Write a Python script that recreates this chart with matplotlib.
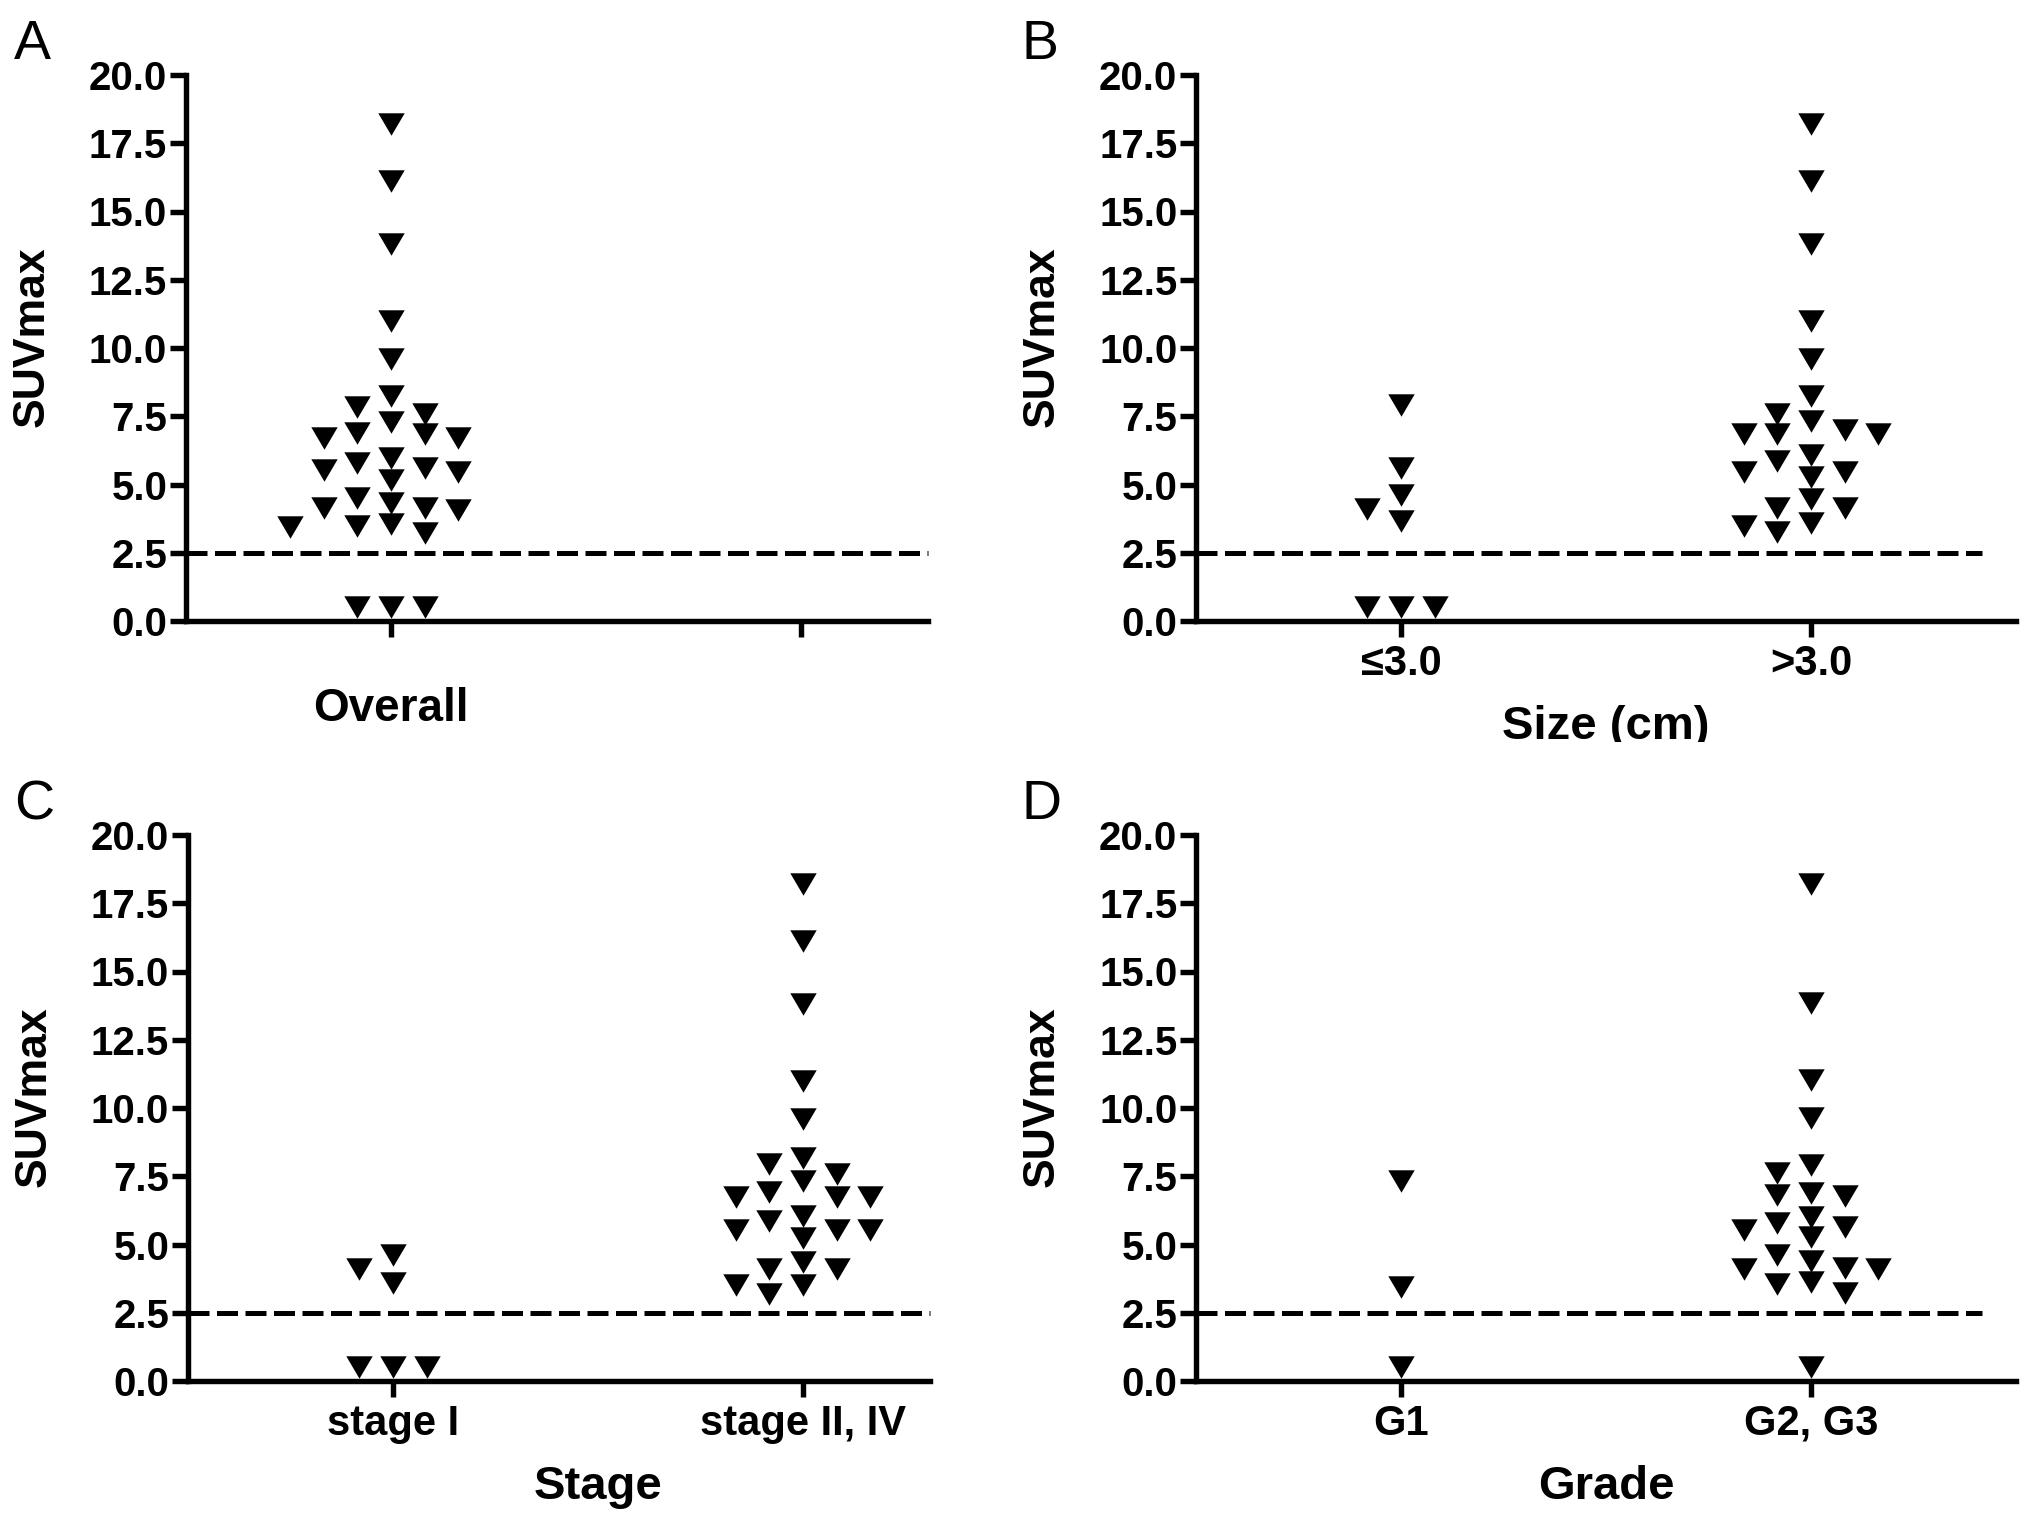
import numpy as np
import matplotlib
matplotlib.use("Agg")
import matplotlib.pyplot as plt
from matplotlib.path import Path
from matplotlib.transforms import Bbox

plt.rcParams['font.family'] = ['Liberation Sans', 'DejaVu Sans']

# ---------------- data (SUVmax values) ----------------
cutoff = 2.5

overall = [18.2, 16.1, 13.8, 11.0, 9.6, 8.25, 7.85, 7.6, 7.3, 6.9, 6.85, 6.7, 6.7,
           5.97, 5.8, 5.62, 5.53, 5.45, 5.18, 4.52, 4.31, 4.13, 4.13, 4.08,
           3.57, 3.49, 3.43, 3.22, 0.5, 0.5, 0.5]

size_le3 = [7.9, 5.6, 4.6, 4.1, 3.65, 0.5, 0.5, 0.5]
size_gt3 = [18.2, 16.1, 13.8, 11.0, 9.6, 8.26, 7.6, 7.33, 6.98, 6.86, 6.86, 6.86,
            6.07, 5.86, 5.46, 5.46, 5.28, 4.46, 4.14, 4.14, 3.58, 3.49, 3.26]

stage_1 = [4.6, 4.1, 3.6, 0.5, 0.5, 0.5]
stage_2_4 = [18.2, 16.1, 13.8, 11.0, 9.6, 8.18, 7.95, 7.59, 7.32, 6.91, 6.74, 6.74, 6.74,
             6.03, 5.85, 5.54, 5.54, 5.54, 5.22, 4.36, 4.11, 4.11, 3.52, 3.52, 3.19]

grade_1 = [7.32, 3.43, 0.52]
grade_2_3 = [18.2, 13.85, 11.04, 9.64, 7.91, 7.62, 6.87, 6.83, 6.76, 6.01, 5.80, 5.65,
             5.53, 5.26, 4.63, 4.40, 4.15, 4.10, 4.10, 3.61, 3.56, 3.24, 0.5]

yticks = [0.0, 2.5, 5.0, 7.5, 10.0, 12.5, 15.0, 17.5, 20.0]

panels = [
    dict(letter='A', groups=[overall], cats=['Overall', ''], xlabel=None),
    dict(letter='B', groups=[size_le3, size_gt3], cats=['\u22643.0', '>3.0'], xlabel='Size (cm)'),
    dict(letter='C', groups=[stage_1, stage_2_4], cats=['stage I', 'stage II, IV'], xlabel='Stage'),
    dict(letter='D', groups=[grade_1, grade_2_3], cats=['G1', 'G2, G3'], xlabel='Grade'),
]

# ---------------- layout helpers ----------------
W, H = 2031, 1525
fig = plt.figure(figsize=(W / 100, H / 100), dpi=100)

# flat downward triangle marker (width 2, height 1.7)
tri = Path([(-1, 0.85), (1, 0.85), (0, -0.85), (-1, 0.85)],
           [Path.MOVETO, Path.LINETO, Path.LINETO, Path.CLOSEPOLY])


def swarm(vals, step=0.082, dy=0.72):
    vals = np.asarray(vals, dtype=float)
    order = np.argsort(-vals, kind='stable')
    cands = [0]
    for k in range(1, 15):
        cands += [-k, k]
    placed = []
    offs = np.zeros(len(vals))
    for i in order:
        v = vals[i]
        for c in cands:
            if all(not (pc == c and abs(v - pv) < dy) for pc, pv in placed):
                offs[i] = c * step
                placed.append((c, v))
                break
    return offs


# axes rectangles in pixels: (left, y of value 0 from top)
rects = {'A': (186, 621), 'B': (1196, 621), 'C': (188, 1381), 'D': (1196, 1381)}
axis_w, axis_h = 820, 546
spine_end = {'A': 1.31, 'B': 1.5, 'C': 1.31, 'D': 1.5}
dash_end = {'A': 1.31, 'B': 1.416, 'C': 1.31, 'D': 1.416}
lw = 3.9

for p in panels:
    L = p['letter']
    lp, y0 = rects[L]
    ax = fig.add_axes([lp / W, (H - y0) / H, axis_w / W, axis_h / H])
    ax.set_xlim(-0.5, 1.5)
    ax.set_ylim(0, 20)
    for s in ('top', 'right'):
        ax.spines[s].set_visible(False)
    ax.spines['left'].set_linewidth(lw)
    ax.spines['bottom'].set_linewidth(lw)
    ax.spines['left'].set_bounds(0, 20)
    ax.spines['bottom'].set_bounds(-0.5, spine_end[L])
    ax.spines['left'].set_capstyle('projecting')
    ax.spines['bottom'].set_capstyle('projecting')

    ax.hlines(cutoff, -0.5, dash_end[L], colors='black', linewidth=3.6,
              linestyles=(0, (4.2, 1.5)), zorder=2)

    for gi, vals in enumerate(p['groups']):
        xs = gi + swarm(vals)
        ax.plot(xs, vals, linestyle='none', marker=tri, markersize=19,
                color='black', markeredgewidth=0, clip_on=False, zorder=3)

    ax.set_yticks(yticks)
    ax.set_yticklabels(['%.1f' % t for t in yticks], fontsize=29, fontweight='bold')
    ax.tick_params(axis='y', direction='out', length=11.5, width=lw, pad=2)
    ax.set_xticks([0, 1])
    if L == 'A':
        ax.set_xticklabels(p['cats'], fontsize=33, fontweight='bold')
        ax.tick_params(axis='x', direction='out', length=11.5, width=lw, pad=36)
    else:
        ax.set_xticklabels(p['cats'], fontsize=30, fontweight='bold')
        ax.tick_params(axis='x', direction='out', length=11.5, width=lw, pad=5)
        ax.set_xlabel(p['xlabel'], fontsize=34, fontweight='bold', labelpad=15)
    ax.set_ylabel('SUVmax', fontsize=32, fontweight='bold')
    ax.yaxis.set_label_coords(-0.162, 0.52)

    if L == 'B':
        lab = ax.xaxis.label
        lab.set_clip_on(True)
        lab.set_clip_box(Bbox([[0, H - 742], [W, H]]))

    # panel letter
    lx = 14 if L in ('A', 'C') else 1021
    base = 59 if L in ('A', 'B') else 819
    fig.text(lx / W, (H - base) / H, L, fontsize=40, fontweight='normal',
             ha='left', va='baseline')

fig.savefig('out.png', dpi=100, facecolor='white')
